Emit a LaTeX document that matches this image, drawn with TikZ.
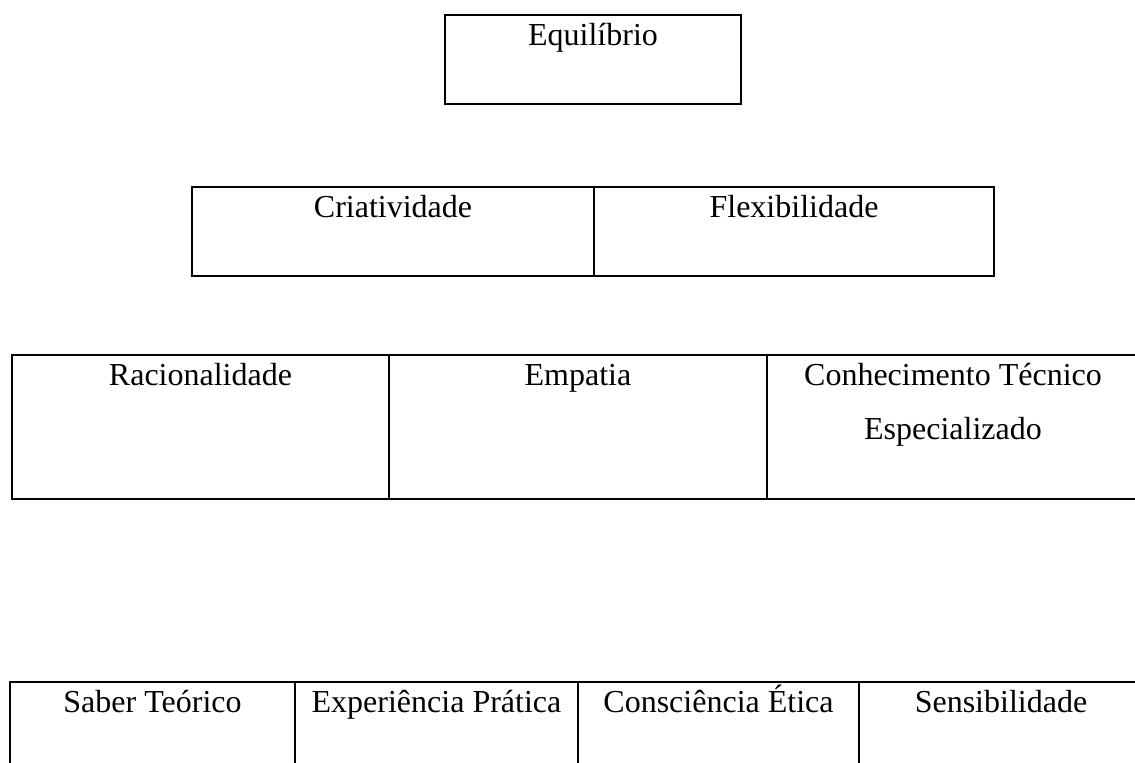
\documentclass[tikz,border=0pt]{standalone}
\usepackage{fontspec}
\setmainfont{Liberation Serif}
\usetikzlibrary{positioning}

\begin{document}
\begin{tikzpicture}[
    x=0.5pt, y=-0.5pt,
    cell/.style={rectangle, draw=black, line width=1pt, inner sep=0pt, anchor=north west, align=center, font=\fontsize{16}{27}\selectfont, text height=15pt, text depth=29.5pt},
    tallcell/.style={cell, text depth=57pt},
    twolinecell/.style={cell, text height=42pt, text depth=30pt}
  ]
    \useasboundingbox (0,0) rectangle (1135,762);
    % top
    \node[cell, minimum width=148pt] (equil) at (444,14) {Equilíbrio};
    % second row
    \node[cell, minimum width=201pt] (criat) at (191,186) {Criatividade};
    \node[cell, minimum width=200pt] (flex) at (593,186) {Flexibilidade};
    % third row
    \node[tallcell, minimum width=188.5pt] (racio) at (11,354) {Racionalidade};
    \node[tallcell, minimum width=189pt] (empat) at (388,354) {Empatia};
    \node[twolinecell, minimum width=186pt] (conhec) at (766,354) {Conhecimento Técnico\\Especializado};
    % base row
    \node[cell, minimum width=142.5pt] (saber) at (9,681) {Saber Teórico};
    \node[cell, minimum width=141.5pt] (exper) at (294,681) {Experiência Prática};
    \node[cell, minimum width=140.5pt] (etica) at (577,681) {Consciência Ética};
    \node[cell, minimum width=142pt] (sensib) at (858,681) {Sensibilidade};
\end{tikzpicture}
\end{document}
